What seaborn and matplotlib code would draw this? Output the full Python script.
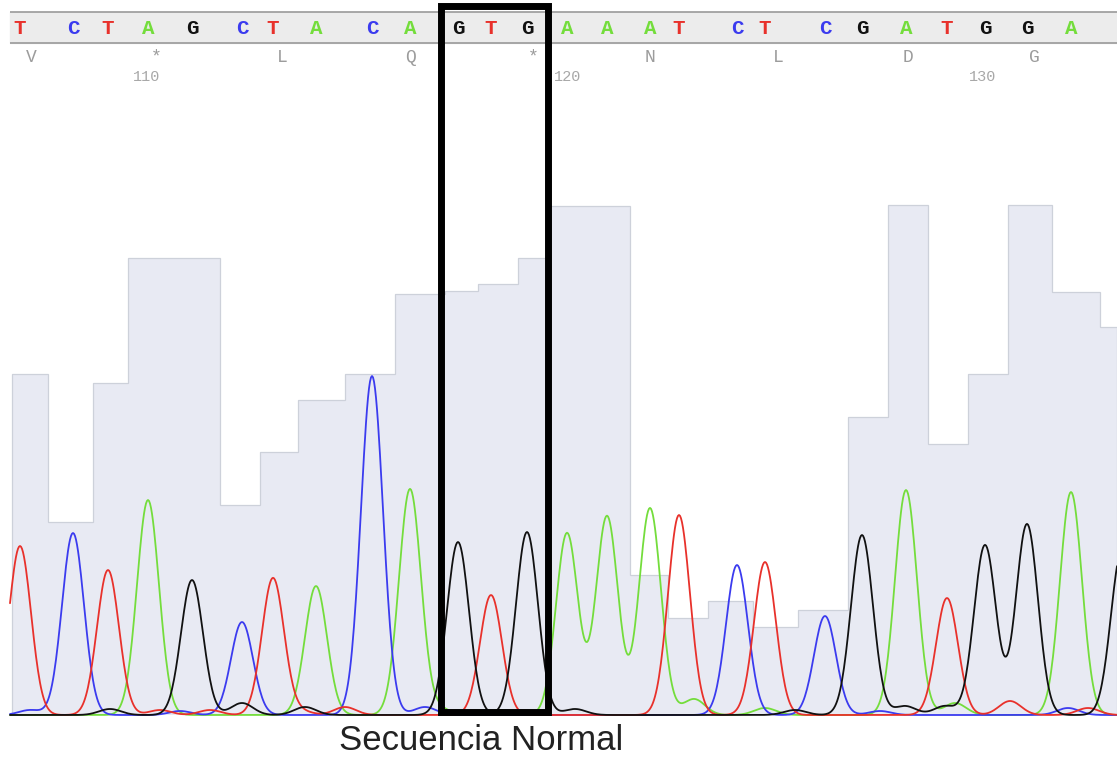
import numpy as np
import pandas as pd
import matplotlib
matplotlib.use("Agg")
import matplotlib.pyplot as plt
from matplotlib.patches import Rectangle
import seaborn as sns

# --- data (x in scan units, heights in signal units) ---
calls = list("TCTAGCTACAGTGAAATCTCGATGGA")
call_scan = [20, 73, 108, 148, 192, 242, 273, 316, 372, 410, 458, 491, 527,
             567, 607, 650, 679, 737, 765, 825, 862, 906, 947, 985, 1027, 1071]
call_height = [169, 182, 145, 215, 135, 93, 137, 129, 339, 226, 173, 120, 183,
               182, 199, 207, 200, 150, 153, 99, 180, 225, 117, 170, 191, 223]

# small secondary peaks / noise under the main calls
minor_base = ["C", "G", "T", "C", "T", "G", "G", "T", "T", "C", "A", "A", "G",
              "A", "A", "G", "C", "G", "G", "A", "T", "C", "T", "G"]
minor_scan = [30, 110, 160, 180, 210, 242, 305, 300, 345, 425, 440, 500, 575,
              694, 765, 795, 880, 905, 945, 955, 1010, 1068, 1088, 1122]
minor_height = [5, 6, 5, 4, 5, 12, 8, 4, 8, 8, 6, 5, 6,
                16, 7, 5, 4, 9, 9, 12, 14, 7, 7, 165]

# quality bars behind the trace
q_edges = [12, 48, 93, 128, 220, 260, 298, 345, 395, 445, 478, 518, 548, 630,
           668, 708, 753, 798, 848, 888, 928, 968, 1008, 1052, 1100, 1117]
q_height = [341, 193, 332, 457, 210, 263, 315, 341, 421, 424, 431, 457, 509,
            140, 97, 114, 88, 105, 298, 510, 271, 341, 510, 423, 388]

# translation row and position numbers
aa_labels = ["V", "*", "L", "Q", "*", "N", "L", "D", "G"]
aa_scan = [31, 156, 282, 410, 533, 650, 778, 908, 1034]
pos_labels = ["110", "120", "130"]
pos_scan = [147, 568, 983]

base_colors = {"A": "#74dd3c", "C": "#3b3bef", "T": "#e8312b", "G": "#111111"}


def build_traces():
    scan = np.arange(10, 1118)
    width = 11.0
    rows = []
    for base in ["A", "C", "T", "G"]:
        signal = np.zeros(len(scan))
        for b, x, h in zip(calls + minor_base, call_scan + minor_scan,
                           call_height + minor_height):
            if b == base:
                signal += h * np.exp(-0.5 * ((scan - x) / width) ** 2)
        rows.append(pd.DataFrame({"scan": scan, "signal": signal, "base": base}))
    return pd.concat(rows, ignore_index=True)


def run_plot():
    sns.set_style("white")
    fig = plt.figure(figsize=(11.17, 7.61), dpi=100)
    ax = fig.add_axes([0, 0, 1, 1])
    ax.set_xlim(0, 1117)
    ax.set_ylim(-46, 715)
    ax.axis("off")

    # quality histogram
    ax.stairs(q_height, q_edges, baseline=0, fill=True, color="#e8eaf3", zorder=1)
    ax.stairs(q_height, q_edges, baseline=0, fill=False, color="#cdd1da",
              linewidth=0.9, zorder=1.1)

    df = build_traces()
    sns.lineplot(data=df, x="scan", y="signal", hue="base",
                 hue_order=["A", "C", "T", "G"], palette=base_colors,
                 linewidth=1.3, legend=False, ax=ax, zorder=3)
    ax.set_xlim(0, 1117)
    ax.set_ylim(-46, 715)
    ax.axis("off")

    # header band with the base calls
    ax.fill_between([10, 1117], 672, 703, color="#ececec", zorder=1)
    ax.hlines([703, 672], 10, 1117, colors="#9a9a9a", linewidth=1.2, zorder=2)
    for b, x in zip(calls, call_scan):
        ax.text(x, 686, b, color=base_colors[b], fontsize=15, fontweight="bold",
                family="Liberation Mono", ha="center", va="center", zorder=4)
    for a, x in zip(aa_labels, aa_scan):
        ax.text(x, 658, a, color="#9c9c9c", fontsize=13,
                family="Liberation Mono", ha="center", va="center", zorder=4)
    for p, x in zip(pos_labels, pos_scan):
        ax.text(x, 638, p, color="#a8a8a8", fontsize=11,
                family="Liberation Mono", ha="center", va="center", zorder=4)

    # highlighted codon
    ax.add_patch(Rectangle((440.5, 3), 107, 706, fill=False, edgecolor="black",
                           linewidth=5, joinstyle="miter", zorder=5))
    ax.text(481, -35, "Secuencia Normal", fontsize=25, color="#222222",
            family="Liberation Sans", ha="center", va="baseline")

    fig.savefig("out.png", dpi=100)


if __name__ == "__main__":
    run_plot()
